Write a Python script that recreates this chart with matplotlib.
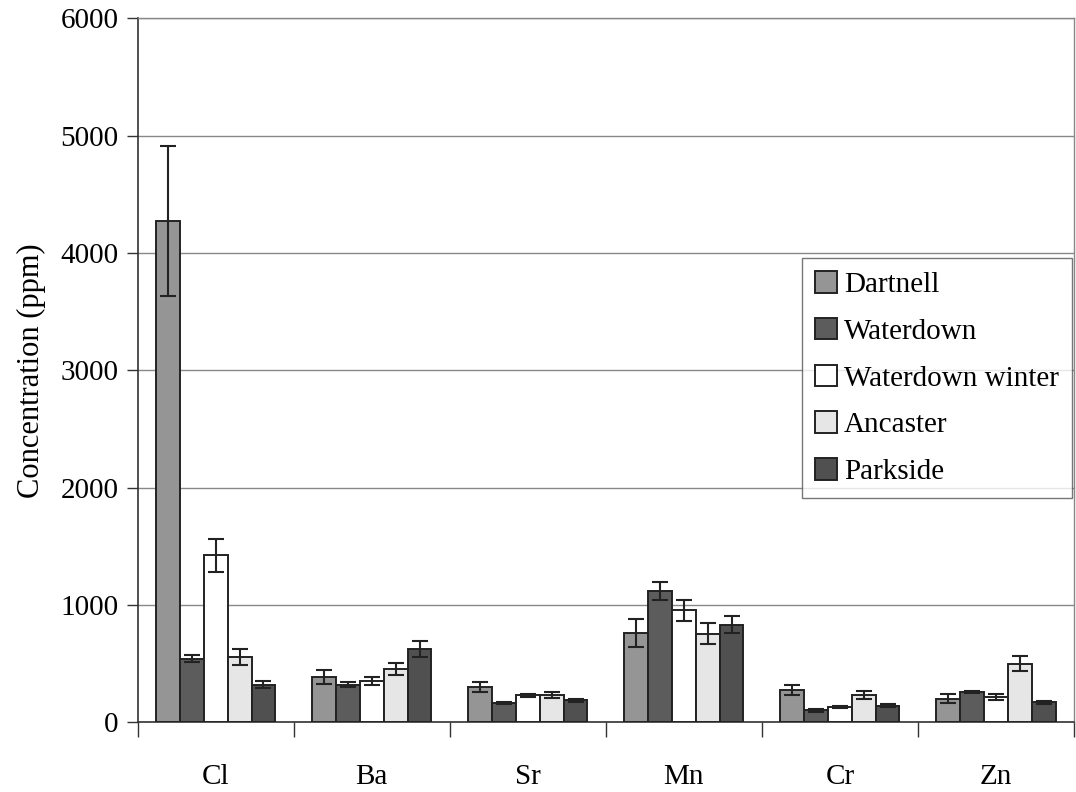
import numpy as np
import matplotlib
matplotlib.use("Agg")
import matplotlib.pyplot as plt

plt.rcParams["font.family"] = ["Liberation Serif", "DejaVu Serif"]

elements = ["Cl", "Ba", "Sr", "Mn", "Cr", "Zn"]
sites = ["Dartnell", "Waterdown", "Waterdown winter", "Ancaster", "Parkside"]
colors = ["#959595", "#5c5c5c", "#ffffff", "#e6e6e6", "#505050"]

# mean concentration (ppm) per element, one list per site
dartnell = [4270, 386, 301, 764, 273, 202]
waterdown = [543, 321, 165, 1119, 102, 258]
waterdown_winter = [1423, 349, 230, 955, 131, 216]
ancaster = [557, 457, 230, 756, 236, 500]
parkside = [321, 622, 187, 832, 142, 170]

# error (± ppm)
dartnell_err = [640, 62, 42, 120, 42, 35]
waterdown_err = [30, 22, 10, 80, 10, 10]
waterdown_winter_err = [140, 33, 15, 90, 10, 25]
ancaster_err = [65, 50, 25, 90, 35, 65]
parkside_err = [30, 68, 12, 70, 10, 10]

means = [dartnell, waterdown, waterdown_winter, ancaster, parkside]
errs = [dartnell_err, waterdown_err, waterdown_winter_err, ancaster_err, parkside_err]

fig = plt.figure(figsize=(10.76, 7.92), dpi=100)
ax = fig.add_axes([0.128, 0.088, 0.870, 0.889])

x = np.arange(len(elements))
w = 0.153
for i, (name, vals, e, c) in enumerate(zip(sites, means, errs, colors)):
    pos = x + (i - 2) * w
    ax.bar(pos, vals, width=w, color=c, edgecolor="#222222", linewidth=1.4,
           label=name, zorder=3)
    ax.errorbar(pos, vals, yerr=e, fmt="none", ecolor="#222222", elinewidth=1.5,
                capsize=5.5, capthick=1.5, zorder=4)

ax.set_xlim(-0.5, len(elements) - 0.5)
ax.set_ylim(0, 6000)
ax.set_yticks(range(0, 6001, 1000))
ax.yaxis.grid(True, color="#888888", linewidth=1.0, zorder=0)
ax.set_xticks(x)
ax.set_xticklabels(elements, fontsize=21)
ax.set_xticks(np.arange(-0.5, len(elements), 1), minor=True)
ax.tick_params(axis="x", which="major", length=0, pad=30)
ax.tick_params(axis="x", which="minor", length=11, width=1, color="#333333")
ax.tick_params(axis="y", length=8, width=1, labelsize=21, pad=6, color="#333333")
ax.set_ylabel("Concentration (ppm)", fontsize=22, labelpad=10)

for s in ["left", "bottom"]:
    ax.spines[s].set_color("#333333")
    ax.spines[s].set_linewidth(1.2)
for s in ["top", "right"]:
    ax.spines[s].set_color("#888888")
    ax.spines[s].set_linewidth(1.0)

leg = ax.legend(loc="upper right", bbox_to_anchor=(0.998, 0.659), fontsize=21,
                frameon=True, fancybox=False, edgecolor="#555555",
                handlelength=0.75, handleheight=0.75, handletextpad=0.25,
                labelspacing=0.68, borderpad=0.45, borderaxespad=0)
leg.get_frame().set_linewidth(1.0)

fig.savefig("out.png", dpi=100)
